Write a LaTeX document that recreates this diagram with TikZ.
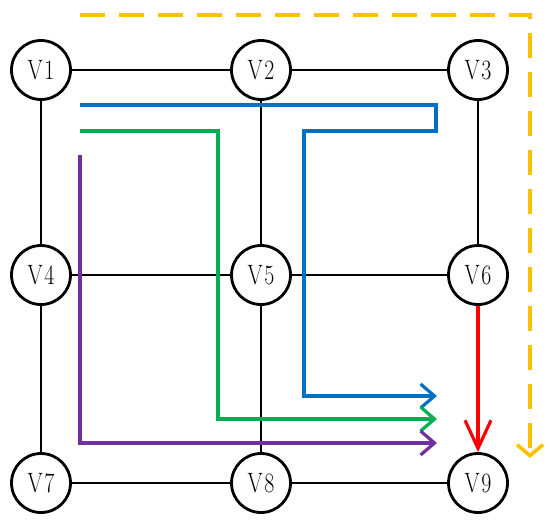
\documentclass[tikz,border=0pt]{standalone}
\usetikzlibrary{arrows.meta}
\definecolor{pblue}{HTML}{0070C0}
\definecolor{pgreen}{HTML}{00B050}
\definecolor{ppurple}{HTML}{7030A0}
\definecolor{pred}{HTML}{FF0000}
\definecolor{pyellow}{HTML}{FFC000}
\newcommand{\vlab}[1]{\scalebox{0.78}[1]{V\kern2pt#1}}
\begin{document}
\begin{tikzpicture}[x=1pt,y=-1pt,
  vert/.style={circle,draw=black,line width=2.8pt,minimum size=59pt,inner sep=0pt,fill=white,font=\fontsize{28}{28}\selectfont},
  edge/.style={line width=2.8pt,black},
  route/.style={line width=3.2pt,line join=miter},
  barb/.style={-{Straight Barb[length=14pt,width=24pt]}}
]
\useasboundingbox (0,0) rectangle (550,522);
\node[vert] (V1) at (41,70) {\vlab{1}};
\node[vert] (V2) at (261,70) {\vlab{2}};
\node[vert] (V3) at (478,70) {\vlab{3}};
\node[vert] (V4) at (41,275) {\vlab{4}};
\node[vert] (V5) at (261,275) {\vlab{5}};
\node[vert] (V6) at (478,275) {\vlab{6}};
\node[vert] (V7) at (41,483) {\vlab{7}};
\node[vert] (V8) at (261,483) {\vlab{8}};
\node[vert] (V9) at (478,483) {\vlab{9}};
\draw[edge] (V1)--(V2) (V2)--(V3) (V4)--(V5) (V5)--(V6) (V7)--(V8) (V8)--(V9)
  (V1)--(V4) (V4)--(V7) (V2)--(V5) (V5)--(V8) (V3)--(V6);
% coordinates for routes
\coordinate (ys) at (80,15);
\coordinate (ye) at (530,458);
\coordinate (bs) at (80,105);
\coordinate (be) at (437,396);
\coordinate (gs) at (80,131);
\coordinate (ge) at (437,419);
\coordinate (ps) at (80,155);
\coordinate (pe) at (437,443);
\draw[route,pyellow,line width=3.6pt,dash pattern=on 25pt off 14pt,-{Straight Barb[length=11pt,width=26pt]}]
  (ys) -| (ye);
\draw[route,pblue,barb] (bs) -- (436,105) -- (436,131) -- (304,131) |- (be);
\draw[route,pgreen,barb] (gs) -- (218,131) |- (ge);
\draw[route,ppurple,barb] (ps) |- (pe);
\draw[route,pred,-{Straight Barb[length=28pt,width=26pt]}] (V6) -- (V9);
\end{tikzpicture}
\end{document}
